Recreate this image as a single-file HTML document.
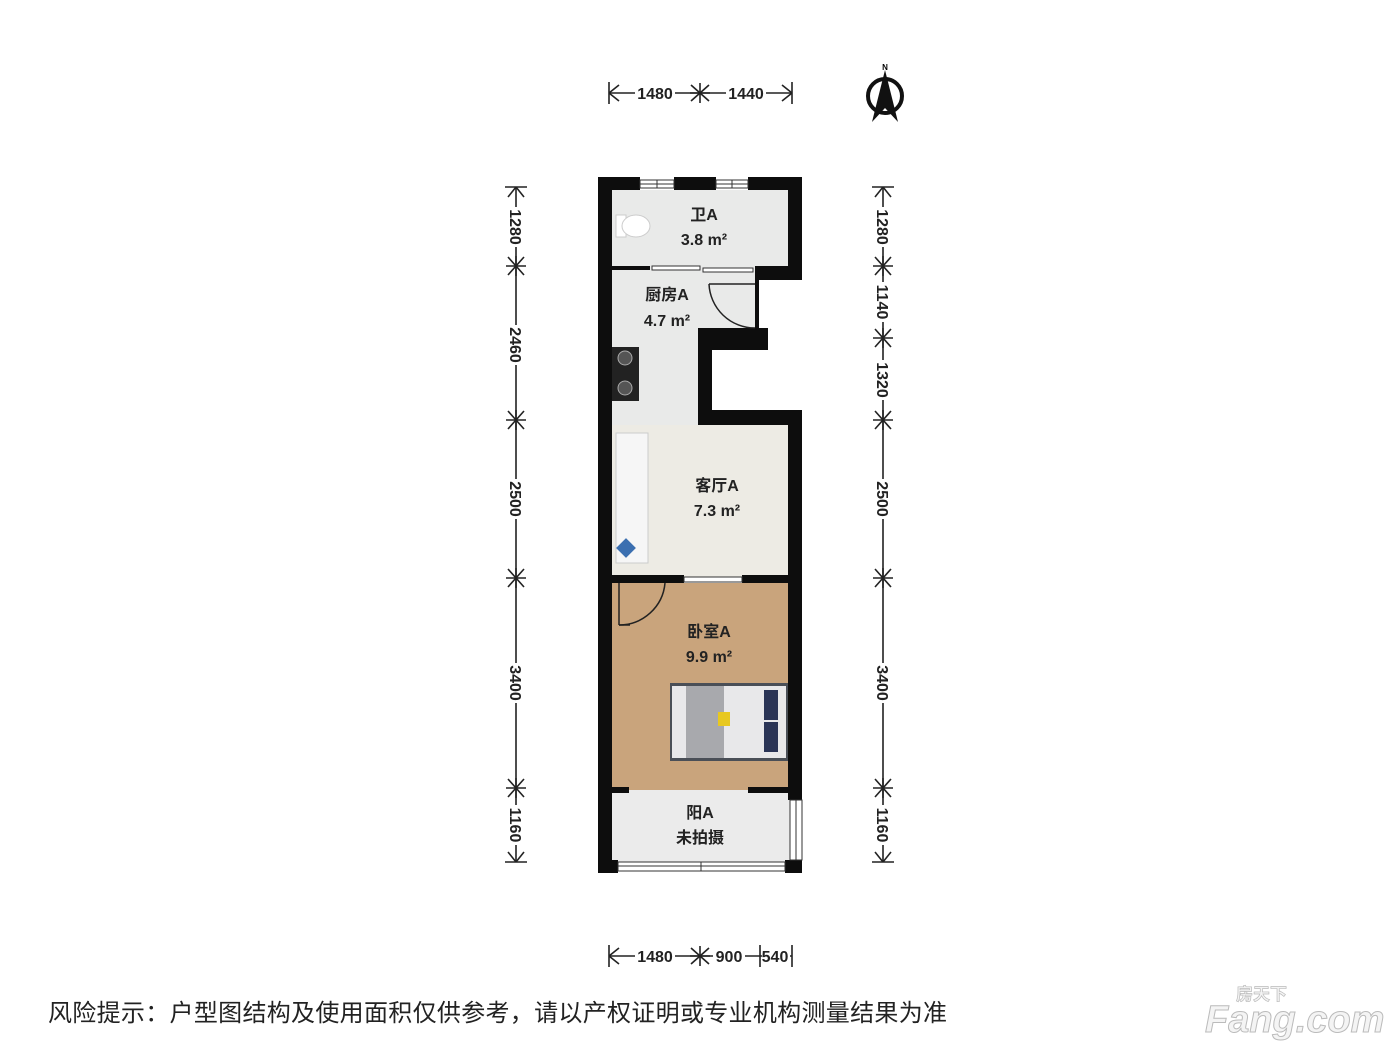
<!DOCTYPE html>
<html><head><meta charset="utf-8"><style>
html,body{margin:0;padding:0;background:#fff;}
svg{display:block;}
.d{font-family:"Liberation Sans",sans-serif;font-weight:bold;font-size:16px;fill:#222;}
.r{font-family:"Liberation Sans","Noto Sans CJK SC",sans-serif;font-weight:bold;font-size:16px;fill:#222;text-anchor:middle;}
</style></head><body>
<svg width="1400" height="1050" viewBox="0 0 1400 1050" xmlns="http://www.w3.org/2000/svg">
<defs>
<g id="tx"><line x1="0" y1="-10" x2="0" y2="10"/><line x1="-9" y1="-8" x2="9" y2="8"/><line x1="-9" y1="8" x2="9" y2="-8"/><line x1="-10" y1="0" x2="10" y2="0"/></g>
<g id="ty"><line x1="-10" y1="0" x2="10" y2="0"/><line x1="-8" y1="-9" x2="8" y2="9"/><line x1="-8" y1="9" x2="8" y2="-9"/><line x1="0" y1="-10" x2="0" y2="10"/></g>
</defs>
<g stroke="#222" stroke-width="1.6" fill="none">
<line x1="609" y1="93" x2="792" y2="93"/>
<line x1="609" y1="82" x2="609" y2="104"/><line x1="609" y1="93" x2="619" y2="85"/><line x1="609" y1="93" x2="619" y2="101"/>
<line x1="792" y1="82" x2="792" y2="104"/><line x1="792" y1="93" x2="782" y2="85"/><line x1="792" y1="93" x2="782" y2="101"/>
<use href="#tx" x="700" y="93"/>
<line x1="609" y1="956" x2="792" y2="956"/>
<line x1="609" y1="945" x2="609" y2="967"/><line x1="609" y1="956" x2="619" y2="948"/><line x1="609" y1="956" x2="619" y2="964"/>
<line x1="792" y1="945" x2="792" y2="967"/>
<use href="#tx" x="700" y="956"/>
<line x1="760" y1="945" x2="760" y2="967"/>
<line x1="516" y1="187" x2="516" y2="862"/>
<line x1="505" y1="187" x2="527" y2="187"/><line x1="516" y1="187" x2="508" y2="197"/><line x1="516" y1="187" x2="524" y2="197"/>
<use href="#ty" x="516" y="266"/><use href="#ty" x="516" y="420"/><use href="#ty" x="516" y="578"/><use href="#ty" x="516" y="788"/>
<line x1="505" y1="862" x2="527" y2="862"/><line x1="516" y1="862" x2="508" y2="852"/><line x1="516" y1="862" x2="524" y2="852"/>
<line x1="883" y1="187" x2="883" y2="862"/>
<line x1="872" y1="187" x2="894" y2="187"/><line x1="883" y1="187" x2="875" y2="197"/><line x1="883" y1="187" x2="891" y2="197"/>
<use href="#ty" x="883" y="266"/><use href="#ty" x="883" y="338"/><use href="#ty" x="883" y="420"/><use href="#ty" x="883" y="578"/><use href="#ty" x="883" y="788"/>
<line x1="872" y1="862" x2="894" y2="862"/><line x1="883" y1="862" x2="875" y2="852"/><line x1="883" y1="862" x2="891" y2="852"/>
</g>
<g class="d">
<rect x="635" y="84" width="40" height="18" fill="#fff"/><text x="655" y="99" text-anchor="middle">1480</text>
<rect x="726" y="84" width="40" height="18" fill="#fff"/><text x="746" y="99" text-anchor="middle">1440</text>
<rect x="635" y="947" width="40" height="18" fill="#fff"/><text x="655" y="962" text-anchor="middle">1480</text>
<rect x="713" y="947" width="32" height="18" fill="#fff"/><text x="729" y="962" text-anchor="middle">900</text>
<rect x="762" y="947" width="28" height="18" fill="#fff"/><text x="775" y="962" text-anchor="middle">540</text>
</g>
<g class="d" text-anchor="middle">
<g transform="translate(516,227) rotate(90)"><rect x="-20" y="-9" width="40" height="18" fill="#fff"/><text y="6">1280</text></g>
<g transform="translate(516,345) rotate(90)"><rect x="-20" y="-9" width="40" height="18" fill="#fff"/><text y="6">2460</text></g>
<g transform="translate(516,499) rotate(90)"><rect x="-20" y="-9" width="40" height="18" fill="#fff"/><text y="6">2500</text></g>
<g transform="translate(516,683) rotate(90)"><rect x="-20" y="-9" width="40" height="18" fill="#fff"/><text y="6">3400</text></g>
<g transform="translate(516,825) rotate(90)"><rect x="-20" y="-9" width="40" height="18" fill="#fff"/><text y="6">1160</text></g>
<g transform="translate(883,227) rotate(90)"><rect x="-20" y="-9" width="40" height="18" fill="#fff"/><text y="6">1280</text></g>
<g transform="translate(883,302) rotate(90)"><rect x="-20" y="-9" width="40" height="18" fill="#fff"/><text y="6">1140</text></g>
<g transform="translate(883,380) rotate(90)"><rect x="-20" y="-9" width="40" height="18" fill="#fff"/><text y="6">1320</text></g>
<g transform="translate(883,499) rotate(90)"><rect x="-20" y="-9" width="40" height="18" fill="#fff"/><text y="6">2500</text></g>
<g transform="translate(883,683) rotate(90)"><rect x="-20" y="-9" width="40" height="18" fill="#fff"/><text y="6">3400</text></g>
<g transform="translate(883,825) rotate(90)"><rect x="-20" y="-9" width="40" height="18" fill="#fff"/><text y="6">1160</text></g>
</g>
<circle cx="885" cy="96" r="17" fill="none" stroke="#111" stroke-width="4"/>
<polygon points="885,70 898,122 885,108 872,122" fill="#111"/>
<text x="885" y="70" font-family="Liberation Sans" font-size="8" font-weight="bold" text-anchor="middle">N</text>

<rect x="612" y="190" width="176" height="88" fill="#e9eae9"/>
<rect x="612" y="278" width="143" height="62" fill="#e9eae9"/>
<rect x="612" y="340" width="86" height="85" fill="#e9eae9"/>
<rect x="612" y="425" width="176" height="152" fill="#edebe4"/>
<rect x="612" y="583" width="176" height="207" fill="#c9a47c"/>
<rect x="612" y="790" width="178" height="72" fill="#ebebeb"/>
<g fill="#0d0d0d">
<rect x="598" y="177" width="14" height="696"/>
<rect x="598" y="177" width="42" height="13"/>
<rect x="674" y="177" width="42" height="13"/>
<rect x="748" y="177" width="54" height="13"/>
<rect x="788" y="177" width="14" height="103"/>
<rect x="755" y="266" width="47" height="14"/>
<rect x="612" y="266" width="38" height="4"/>
<rect x="755" y="280" width="4" height="48"/>
<rect x="698" y="328" width="70" height="22"/>
<rect x="698" y="340" width="14" height="85"/>
<rect x="698" y="410" width="104" height="15"/>
<rect x="788" y="410" width="14" height="390"/>
<rect x="612" y="575" width="72" height="8"/>
<rect x="742" y="575" width="46" height="8"/>
<rect x="612" y="787" width="17" height="6"/>
<rect x="748" y="787" width="40" height="6"/>
<rect x="598" y="860" width="20" height="13"/>
<rect x="785" y="860" width="17" height="13"/>
</g>
<g fill="#fff" stroke="#333" stroke-width="1">
<rect x="640" y="180" width="34" height="8"/><line x1="657" y1="180" x2="657" y2="188"/><line x1="640" y1="184" x2="674" y2="184"/>
<rect x="716" y="180" width="32" height="8"/><line x1="732" y1="180" x2="732" y2="188"/><line x1="716" y1="184" x2="748" y2="184"/>
<rect x="618" y="862" width="167" height="9"/><line x1="701" y1="862" x2="701" y2="871"/><line x1="618" y1="866" x2="785" y2="866"/>
<rect x="790" y="800" width="12" height="60"/><line x1="796" y1="800" x2="796" y2="860"/>
<rect x="684" y="577" width="58" height="5"/>
<rect x="652" y="266" width="48" height="4"/><rect x="703" y="268" width="50" height="4"/>
</g>
<g fill="none" stroke="#222" stroke-width="1.5">
<line x1="709" y1="284" x2="755" y2="284"/><path d="M709,284 A46,46 0 0 0 755,328"/>
<line x1="619" y1="583" x2="619" y2="625"/><path d="M619,625 A46,46 0 0 0 665,583"/><line x1="619" y1="625" x2="630" y2="625"/>
</g>
<rect x="616" y="215" width="10" height="22" fill="#fff" stroke="#ccc"/>
<ellipse cx="636" cy="226" rx="14" ry="11" fill="#fff" stroke="#ccc"/>
<rect x="612" y="347" width="27" height="54" fill="#222"/>
<circle cx="625" cy="358" r="7" fill="#555" stroke="#aaa"/><circle cx="625" cy="388" r="7" fill="#555" stroke="#aaa"/>
<rect x="616" y="433" width="32" height="130" fill="#f6f6f6" stroke="#ccc"/>
<rect x="619" y="541" width="14" height="14" fill="#3b6fb0" transform="rotate(45 626 548)"/>
<rect x="670" y="683" width="118" height="78" fill="#4a4f57"/>
<rect x="672" y="686" width="114" height="72" fill="#e8e8ea"/>
<rect x="686" y="686" width="38" height="72" fill="#a8a9ad"/>
<rect x="718" y="712" width="12" height="14" fill="#e8c820"/>
<rect x="764" y="690" width="14" height="30" fill="#2a3456"/><rect x="764" y="722" width="14" height="30" fill="#2a3456"/>
<text class="r" x="704" y="220">卫A</text>
<text class="r" x="704" y="245" font-size="15">3.8 m²</text>
<text class="r" x="667" y="300">厨房A</text>
<text class="r" x="667" y="326" font-size="15">4.7 m²</text>
<text class="r" x="717" y="491">客厅A</text>
<text class="r" x="717" y="516" font-size="15">7.3 m²</text>
<text class="r" x="709" y="637">卧室A</text>
<text class="r" x="709" y="662" font-size="15">9.9 m²</text>
<text class="r" x="700" y="818">阳A</text>
<text class="r" x="700" y="843">未拍摄</text>
<text x="48" y="1021" font-family="Liberation Sans,'Noto Sans CJK SC',sans-serif" font-size="24" fill="#222" textLength="899" lengthAdjust="spacing">风险提示：户型图结构及使用面积仅供参考，请以产权证明或专业机构测量结果为准</text>
<text x="1205" y="1032" font-family="Liberation Sans,sans-serif" font-weight="bold" font-style="italic" font-size="38" fill="#f4f4f4" stroke="#bbb" stroke-width="1">Fang.com</text>
<text x="1236" y="1000" font-family="'Noto Sans CJK SC',sans-serif" font-weight="bold" font-size="17" fill="#f4f4f4" stroke="#bbb" stroke-width="0.7">房天下</text>
</svg>
</body></html>
